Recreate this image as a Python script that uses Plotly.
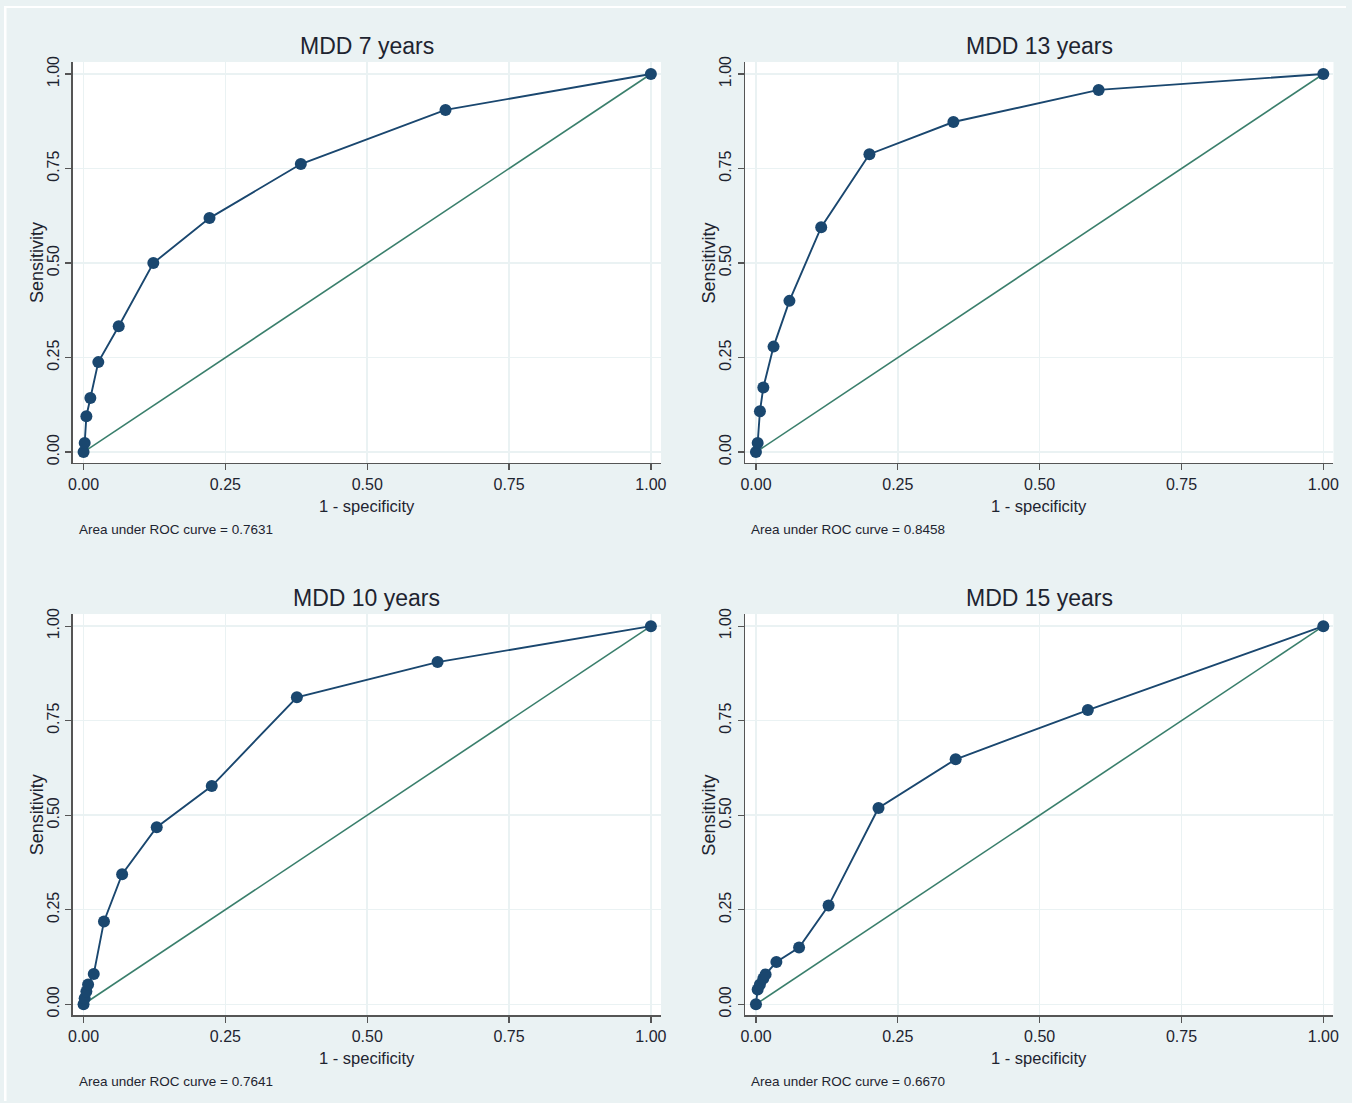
import plotly.graph_objects as go

# ---- data ----
titles = ["MDD 7 years", "MDD 13 years", "MDD 10 years", "MDD 15 years"]
auc_values = ["0.7631", "0.8458", "0.7641", "0.6670"]

fpr_7 = [0, 0.002, 0.005, 0.012, 0.026, 0.062, 0.123, 0.222, 0.383, 0.638, 1]
tpr_7 = [0, 0.024, 0.095, 0.143, 0.238, 0.333, 0.500, 0.619, 0.762, 0.905, 1]

fpr_13 = [0, 0.003, 0.007, 0.013, 0.031, 0.059, 0.115, 0.200, 0.348, 0.604, 1]
tpr_13 = [0, 0.024, 0.108, 0.171, 0.279, 0.400, 0.595, 0.788, 0.873, 0.958, 1]

fpr_10 = [0, 0.002, 0.005, 0.008, 0.018, 0.036, 0.068, 0.129, 0.226, 0.376, 0.624, 1]
tpr_10 = [0, 0.016, 0.034, 0.052, 0.080, 0.219, 0.344, 0.468, 0.577, 0.812, 0.905, 1]

fpr_15 = [0, 0.003, 0.007, 0.013, 0.017, 0.036, 0.076, 0.128, 0.216, 0.352, 0.585, 1]
tpr_15 = [0, 0.039, 0.052, 0.068, 0.079, 0.112, 0.150, 0.261, 0.519, 0.648, 0.778, 1]

ref_x = [0, 1]
ref_y = [0, 1]

tick_vals = [0, 0.25, 0.5, 0.75, 1]
tick_text = ["0.00", "0.25", "0.50", "0.75", "1.00"]

# ---- layout geometry ----
W, H = 1352, 1103
BG = "#EAF2F3"
NAVY = "#1a476f"
GREEN = "#3a7f6c"
TXT = "#1e2430"
FONT = "Liberation Sans, Arial"

# compensation for the slight scaling/offset of the captured page
SX, OX = 0.992, 4.5
SY, OY = 0.9925, 5.0


def fx(px):
    """target pixel x -> paper fraction"""
    return ((px - OX) / SX) / W


def fy(py):
    """target pixel y (from top) -> paper fraction"""
    return 1 - ((py - OY) / SY) / H


panels = [
    dict(fpr=fpr_7, tpr=tpr_7, x0=73, x1=661, y0=61, y1=462),
    dict(fpr=fpr_13, tpr=tpr_13, x0=745, x1=1333, y0=61, y1=462),
    dict(fpr=fpr_10, tpr=tpr_10, x0=73, x1=661, y0=613, y1=1014),
    dict(fpr=fpr_15, tpr=tpr_15, x0=745, x1=1333, y0=613, y1=1014),
]

fig = go.Figure()
annotations = []
layout_axes = {}

for i, p in enumerate(panels):
    n = i + 1
    xa = "x" if n == 1 else f"x{n}"
    ya = "y" if n == 1 else f"y{n}"
    xkey = "xaxis" if n == 1 else f"xaxis{n}"
    ykey = "yaxis" if n == 1 else f"yaxis{n}"

    fig.add_trace(go.Scatter(x=ref_x, y=ref_y, mode="lines",
                             line=dict(color=GREEN, width=1.6),
                             xaxis=xa, yaxis=ya, showlegend=False, hoverinfo="skip"))
    fig.add_trace(go.Scatter(x=p["fpr"], y=p["tpr"], mode="lines+markers",
                             line=dict(color=NAVY, width=1.9),
                             marker=dict(color=NAVY, size=12),
                             xaxis=xa, yaxis=ya, showlegend=False))

    px_per_x = (p["x1"] - p["x0"] - 11 - 10) / 1.0
    xr = [-11 / px_per_x, 1 + 10 / px_per_x]
    px_per_y = (p["y1"] - p["y0"] - 12 - 11) / 1.0
    yr = [-11 / px_per_y, 1 + 12 / px_per_y]

    common = dict(
        tickvals=tick_vals, ticktext=tick_text,
        showgrid=True, gridcolor=BG, gridwidth=1.5,
        zeroline=False, showline=True, linecolor="#555555", linewidth=1.3,
        ticks="outside", ticklen=6, tickcolor="#555555", tickwidth=1.3,
        tickfont=dict(family=FONT, size=16, color=TXT),
        fixedrange=True,
    )
    layout_axes[xkey] = dict(common, domain=[fx(p["x0"]), fx(p["x1"])], range=xr,
                             anchor=ya)
    layout_axes[ykey] = dict(common, domain=[fy(p["y1"]), fy(p["y0"])], range=yr,
                             anchor=xa, tickangle=-90)

    cx = (p["x0"] + p["x1"]) / 2
    annotations.append(dict(text=titles[i], x=fx(cx), y=fy(p["y0"] - 16),
                            xref="paper", yref="paper", showarrow=False,
                            xanchor="center", yanchor="middle",
                            font=dict(family=FONT, size=23, color=TXT)))
    annotations.append(dict(text="1 - specificity", x=fx(cx), y=fy(p["y1"] + 43),
                            xref="paper", yref="paper", showarrow=False,
                            xanchor="center", yanchor="middle",
                            font=dict(family=FONT, size=16.5, color=TXT)))
    cy = (p["y0"] + p["y1"]) / 2
    annotations.append(dict(text="Sensitivity", x=fx(p["x0"] - 36), y=fy(cy),
                            xref="paper", yref="paper", showarrow=False, textangle=-90,
                            xanchor="center", yanchor="middle",
                            font=dict(family=FONT, size=18, color=TXT)))
    annotations.append(dict(text=f"Area under ROC curve = {auc_values[i]}",
                            x=fx(p["x0"] + 4), y=fy(p["y1"] + 66),
                            xref="paper", yref="paper", showarrow=False,
                            xanchor="left", yanchor="middle",
                            font=dict(family=FONT, size=13.5, color=TXT)))

shapes = [
    *[dict(type="rect", xref="paper", yref="paper", layer="below",
           x0=fx(p["x0"]), x1=fx(p["x1"]), y0=fy(p["y1"]), y1=fy(p["y0"]),
           fillcolor="white", line=dict(width=0)) for p in panels],
    dict(type="rect", xref="paper", yref="paper", layer="below",
         x0=0, x1=1, y0=fy(7), y1=1, fillcolor="white", line=dict(width=0)),
    dict(type="rect", xref="paper", yref="paper", layer="below",
         x0=0, x1=fx(7), y0=0, y1=1, fillcolor="white", line=dict(width=0)),
]

fig.update_layout(
    width=W, height=H,
    margin=dict(l=0, r=0, t=0, b=0),
    paper_bgcolor=BG, plot_bgcolor="white",
    annotations=annotations, shapes=shapes,
    hovermode=False,
    **layout_axes,
)

fig.write_html(
    "out.html",
    config={"displayModeBar": False, "staticPlot": True},
    post_script=(
        "document.body.style.margin='0';"
        "document.body.style.overflow='hidden';"
        "document.documentElement.style.overflow='hidden';"
        "document.documentElement.style.background="
        "'linear-gradient(to right, #ffffff 7px, rgba(0,0,0,0) 7px),"
        " linear-gradient(to bottom, #ffffff 7px, #EAF2F3 7px)';"
        "document.body.style.background='transparent';"
    ),
)
